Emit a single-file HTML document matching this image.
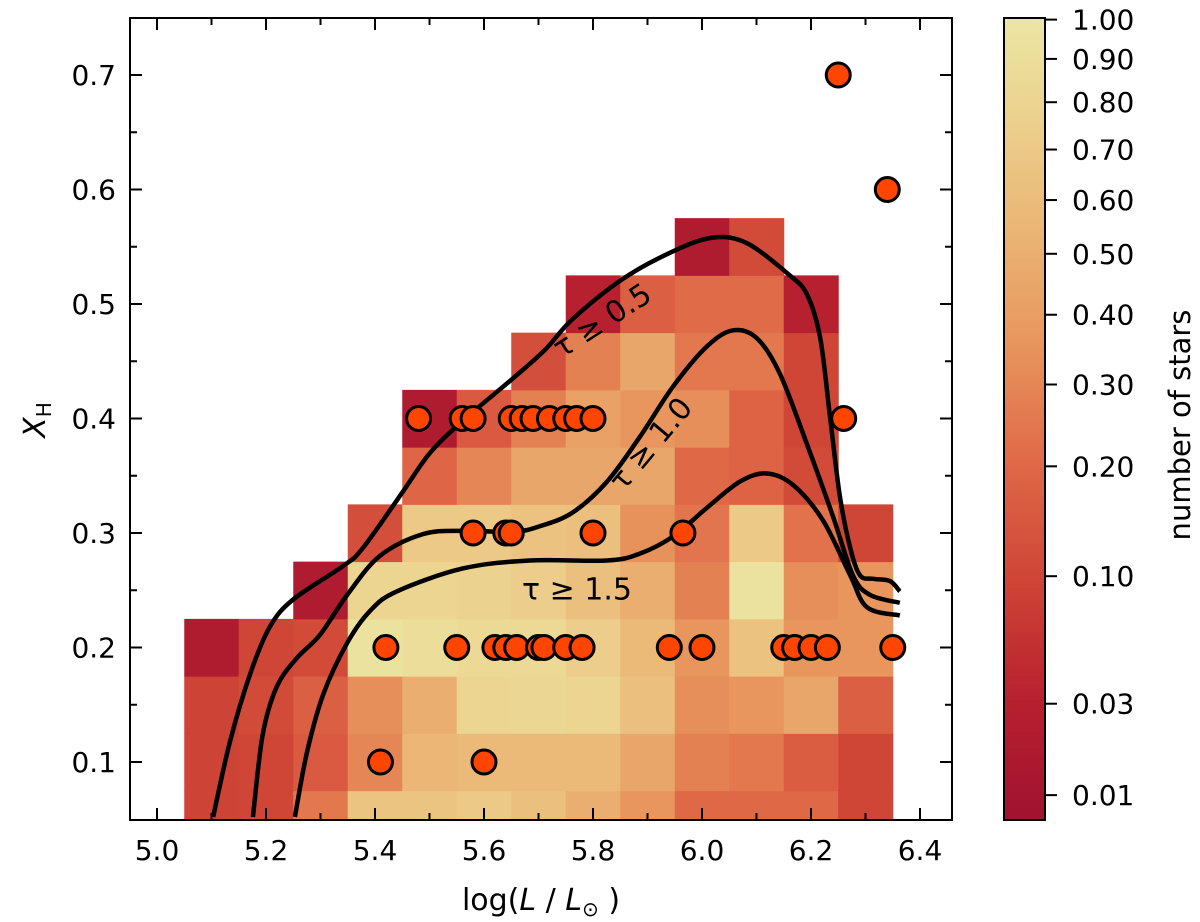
<!DOCTYPE html>
<html><head><meta charset="utf-8"><style>
body{margin:0;background:#fff}
svg{display:block;font-family:"DejaVu Sans","Liberation Sans",sans-serif}
</style></head><body>
<svg id="chart" width="1200" height="922" viewBox="0 0 1200 922">
<defs><clipPath id="clip"><rect x="130" y="18" width="822" height="802"/></clipPath></defs>
<g id="heat" clip-path="url(#clip)"></g>
<g id="curves" clip-path="url(#clip)"></g>
<g id="dots"></g>
<rect x="130" y="18" width="822" height="802" fill="none" stroke="#000" stroke-width="2"/>
<g id="axes"></g>
<g id="cbar"></g>
</svg>
<script>
// ---- data ----
const colCenters=[5.1,5.2,5.3,5.4,5.5,5.6,5.7,5.8,5.9,6.0,6.1,6.2,6.3];
const rowCenters=[0.05,0.1,0.15,0.2,0.25,0.3,0.35,0.4,0.45,0.5,0.55];
const gridValues=[
[0.09,0.09,0.09,0.02],
[0.1,0.1,0.11,0.1],
[0.25,0.15,0.17,0.11,0.02],
[0.66,0.3,0.33,0.95,0.8,0.12],
[0.66,0.55,0.5,0.9,0.8,0.7,0.19,0.02],
[0.7,0.58,0.8,0.85,0.78,0.7,0.3,0.15],
[0.62,0.58,0.82,0.85,0.74,0.64,0.45,0.28,0.12],
[0.5,0.58,0.8,0.74,0.62,0.62,0.45,0.42,0.28,0.03],
[0.36,0.45,0.62,0.58,0.5,0.34,0.45,0.36,0.45,0.17],
[0.2,0.28,0.33,0.36,0.28,0.24,0.2,0.33,0.25,0.21,0.02],
[0.2,0.25,0.36,0.64,0.95,0.7,0.18,0.18,0.25,0.21,0.11],
[0.2,0.16,0.45,0.36,0.33,0.23,0.11,0.1,0.1,0.03],
[0.1,0.1,0.17,0.36,0.36,0.1]];
const starL=[6.25,6.34,5.48,5.56,5.58,5.65,5.67,5.69,5.72,5.75,5.77,5.80,6.26,5.58,5.64,5.65,5.80,5.965,5.42,5.55,5.62,5.64,5.66,5.70,5.71,5.75,5.78,5.94,6.0,6.15,6.17,6.2,6.23,6.35,5.41,5.60];
const starX=[0.7,0.6,0.4,0.4,0.4,0.4,0.4,0.4,0.4,0.4,0.4,0.4,0.4,0.3,0.3,0.3,0.3,0.3,0.2,0.2,0.2,0.2,0.2,0.2,0.2,0.2,0.2,0.2,0.2,0.2,0.2,0.2,0.2,0.2,0.1,0.1];
const tau05L=[5.103,5.134,5.171,5.207,5.250,5.341,5.378,5.451,5.501,5.561,5.653,5.712,5.763,5.855,5.947,6.020,6.083,6.161,6.193,6.217,6.235,6.253,6.272,6.290,6.314,6.345,6.363];
const tau05X=[0.052,0.118,0.177,0.218,0.242,0.271,0.287,0.336,0.370,0.398,0.435,0.460,0.487,0.522,0.546,0.558,0.553,0.525,0.508,0.470,0.401,0.332,0.287,0.263,0.260,0.258,0.249];
const tau10L=[5.176,5.194,5.220,5.257,5.299,5.349,5.409,5.488,5.561,5.653,5.703,5.763,5.826,5.886,5.947,6.009,6.057,6.101,6.143,6.193,6.240,6.277,6.308,6.363];
const tau10X=[0.052,0.124,0.166,0.191,0.211,0.246,0.280,0.299,0.302,0.301,0.306,0.318,0.345,0.384,0.428,0.463,0.477,0.470,0.439,0.377,0.315,0.263,0.246,0.239];
const tau15L=[5.253,5.275,5.305,5.349,5.391,5.440,5.561,5.684,5.826,5.886,5.947,6.009,6.070,6.119,6.167,6.222,6.272,6.303,6.363];
const tau15X=[0.052,0.108,0.159,0.204,0.232,0.249,0.269,0.276,0.276,0.282,0.297,0.322,0.345,0.352,0.342,0.311,0.263,0.235,0.228];
const xTicks=["5.0","5.2","5.4","5.6","5.8","6.0","6.2","6.4"];
const yTicks=["0.1","0.2","0.3","0.4","0.5","0.6","0.7"];
const cbTickLabels=["1.00","0.90","0.80","0.70","0.60","0.50","0.40","0.30","0.20","0.10","0.03","0.01"];
const cbTickVals=[1.0,0.9,0.8,0.7,0.6,0.5,0.4,0.3,0.2,0.1,0.03,0.01];
const cbTickFrac=[0.998,0.949,0.895,0.836,0.773,0.706,0.630,0.543,0.441,0.304,0.145,0.031];
const cmapStops=[[0,"#a0122f"],[0.15,"#b8202f"],[0.3,"#cf4536"],[0.45,"#e06a48"],[0.6,"#e8975e"],[0.75,"#ebb877"],[0.9,"#ecd592"],[1,"#ece6a4"]];
// ---- scales ----
const NS="http://www.w3.org/2000/svg";
const X=v=>157+(v-5)*545, Y=v=>762-(v-0.1)*1145;
function mk(t,a,p){const e=document.createElementNS(NS,t);for(const k in a)e.setAttribute(k,a[k]);p.appendChild(e);return e;}
function hex(h){return [1,3,5].map(i=>parseInt(h.substr(i,2),16));}
function cmap(f){f=Math.max(0,Math.min(1,f));for(let i=1;i<cmapStops.length;i++){if(f<=cmapStops[i][0]){const a=cmapStops[i-1],b=cmapStops[i];const t=(f-a[0])/(b[0]-a[0]);const A=hex(a[1]),B=hex(b[1]);return "rgb("+A.map((c,j)=>Math.round(c+(B[j]-c)*t)).join(",")+")";}}return cmapStops[cmapStops.length-1][1];}
function norm(v){const lv=Math.log(v);for(let i=0;i<cbTickVals.length-1;i++){const a=cbTickVals[i],b=cbTickVals[i+1];if(v<=a&&v>=b){const t=(lv-Math.log(b))/(Math.log(a)-Math.log(b));return cbTickFrac[i+1]+t*(cbTickFrac[i]-cbTickFrac[i+1]);}}return v>1?1:0.02;}
// heatmap
const heat=document.getElementById('heat');
colCenters.forEach((c,i)=>{gridValues[i].forEach((v,j)=>{const r=rowCenters[j];
 const e=mk('rect',{x:X(c-0.05),y:Y(r+0.025),width:X(c+0.05)-X(c-0.05)+0.5,height:Y(r-0.025)-Y(r+0.025)+0.5,fill:cmap(norm(v))},heat);
 
 });});
// curves
function smooth(L,V){const p=L.map((l,i)=>[X(l),Y(V[i])]);let d="M"+p[0][0]+","+p[0][1];
 for(let i=0;i<p.length-1;i++){const p0=p[i-1]||p[i],p1=p[i],p2=p[i+1],p3=p[i+2]||p2;
 d+=" C"+(p1[0]+(p2[0]-p0[0])/6)+","+(p1[1]+(p2[1]-p0[1])/6)+" "+(p2[0]-(p3[0]-p1[0])/6)+","+(p2[1]-(p3[1]-p1[1])/6)+" "+p2[0]+","+p2[1];}return d;}
const cg=document.getElementById('curves');
[[tau05L,tau05X,'curve-tau-0.5'],[tau10L,tau10X,'curve-tau-1.0'],[tau15L,tau15X,'curve-tau-1.5']].forEach(s=>{
 const e=mk('path',{d:smooth(s[0],s[1]),fill:'none',stroke:'#000','stroke-width':4.5},cg);
 
 });
const lab=[["τ ≥ 0.5",603,322,-33],["τ ≥ 1.0",652,445,-50],["τ ≥ 1.5",577,591,0]];
lab.forEach(l=>{const t=mk('text',{x:l[1],y:l[2],'font-size':30,'text-anchor':'middle','dominant-baseline':'middle',transform:`rotate(${l[3]} ${l[1]} ${l[2]})`},cg);t.textContent=l[0];
 
 });
// dots
const dg=document.getElementById('dots');
starL.forEach((l,i)=>{const e=mk('circle',{cx:X(l),cy:Y(starX[i]),r:12,fill:'#ff4500',stroke:'#000','stroke-width':3},dg);
 
 });
// axes
const ax=document.getElementById('axes');
for(let k=0;k<=15;k++){const vv=5.0+k*0.1;const px=X(vv);if(px<131||px>951)continue;const major=k%2==0;const len=major?12:7;
 mk('line',{x1:px,y1:820,x2:px,y2:820-len,stroke:'#000','stroke-width':2},ax);mk('line',{x1:px,y1:18,x2:px,y2:18+len,stroke:'#000','stroke-width':2},ax);}
for(let k=0;k<=14;k++){const vv=0.05+k*0.05;const py=Y(vv);if(py<19||py>819)continue;const major=(k%2==1);const len=major?12:7;
 mk('line',{x1:130,y1:py,x2:130+len,y2:py,stroke:'#000','stroke-width':2},ax);mk('line',{x1:952,y1:py,x2:952-len,y2:py,stroke:'#000','stroke-width':2},ax);}
xTicks.forEach(s=>{const t=mk('text',{x:X(parseFloat(s)),y:860,'font-size':28,'text-anchor':'middle'},ax);t.textContent=s;
 
 });
yTicks.forEach(s=>{const t=mk('text',{x:116,y:Y(parseFloat(s))+10,'font-size':28,'text-anchor':'end'},ax);t.textContent=s;
 
 });
const xl=mk('text',{x:541,y:910,'font-size':30,'text-anchor':'middle'},ax);
xl.innerHTML='log(<tspan font-style="italic">L</tspan> / <tspan font-style="italic">L</tspan><tspan font-size="20" dy="6">⊙</tspan><tspan dy="-6"> )</tspan>';


const yl=mk('text',{x:45,y:420,'font-size':30,'text-anchor':'middle',transform:'rotate(-90 45 420)'},ax);
yl.innerHTML='<tspan font-style="italic">X</tspan><tspan font-size="20" dy="6">H</tspan>';


// colorbar
const cb=document.getElementById('cbar');const cx0=1004,cw=41,cy0=18,ch=802;
for(let i=0;i<200;i++){const f=i/200;mk('rect',{x:cx0,y:cy0+ch*(1-(i+1)/200),width:cw,height:ch/200+0.6,fill:cmap(f+0.0025)},cb);}
mk('rect',{x:cx0,y:cy0,width:cw,height:ch,fill:'none',stroke:'#000','stroke-width':2},cb);
cbTickLabels.forEach((s,i)=>{const py=cy0+ch*(1-cbTickFrac[i]);mk('line',{x1:cx0+cw,y1:py,x2:cx0+cw+12,y2:py,stroke:'#000','stroke-width':2},cb);
 const t=mk('text',{x:1072,y:py+10,'font-size':28},cb);t.textContent=s;
 
 });
const cl=mk('text',{x:1190,y:425,'font-size':29,'text-anchor':'middle',transform:'rotate(-90 1190 425)'},cb);cl.textContent='number of stars';


</script>
</body></html>
